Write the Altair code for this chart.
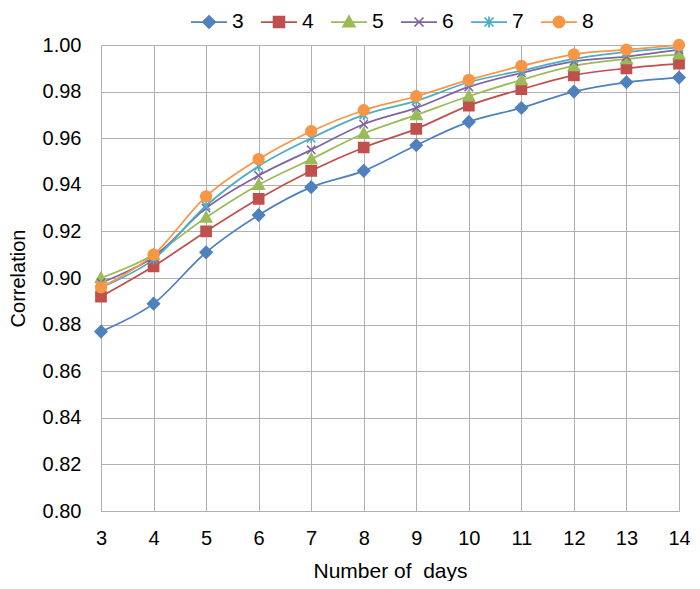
import altair as alt
import pandas as pd

days = list(range(3, 15))
series_names = ["3", "4", "5", "6", "7", "8"]
s3 = [0.877, 0.889, 0.911, 0.927, 0.939, 0.946, 0.957, 0.967, 0.973, 0.980, 0.984, 0.986]
s4 = [0.892, 0.905, 0.920, 0.934, 0.946, 0.956, 0.964, 0.974, 0.981, 0.987, 0.990, 0.992]
s5 = [0.900, 0.910, 0.926, 0.940, 0.951, 0.962, 0.970, 0.978, 0.985, 0.991, 0.994, 0.996]
s6 = [0.898, 0.909, 0.930, 0.944, 0.955, 0.966, 0.973, 0.982, 0.988, 0.993, 0.995, 0.998]
s7 = [0.896, 0.908, 0.931, 0.948, 0.960, 0.970, 0.976, 0.984, 0.989, 0.994, 0.997, 0.999]
s8 = [0.896, 0.910, 0.935, 0.951, 0.963, 0.972, 0.978, 0.985, 0.991, 0.996, 0.998, 1.000]
y_ticks = [0.80, 0.82, 0.84, 0.86, 0.88, 0.90, 0.92, 0.94, 0.96, 0.98, 1.00]
colors = ["#4F81BD", "#C0504D", "#9BBB59", "#8064A2", "#4BACC6", "#F79646"]

marker_paths = [
    "M0,-1L1,0L0,1L-1,0Z",
    "M-0.85,-0.85L0.85,-0.85L0.85,0.85L-0.85,0.85Z",
    "M0,-0.95L0.95,0.75L-0.95,0.75Z",
    "M-0.7,-0.7L0.7,0.7M-0.7,0.7L0.7,-0.7",
    "M-0.7,-0.7L0.7,0.7M-0.7,0.7L0.7,-0.7M0,-0.85L0,0.85",
    "M-0.9,0A0.9,0.9,0,1,0,0.9,0A0.9,0.9,0,1,0,-0.9,0Z",
]
legend_paths = [
    "M-1,0L1,0M0,-0.34L0.34,0L0,0.34L-0.34,0Z",
    "M-1,0L1,0M-0.3,-0.3L0.3,-0.3L0.3,0.3L-0.3,0.3Z",
    "M-1,0L1,0M0,-0.33L0.33,0.26L-0.33,0.26Z",
    "M-1,0L1,0M-0.25,-0.25L0.25,0.25M-0.25,0.25L0.25,-0.25",
    "M-1,0L1,0M-0.25,-0.25L0.25,0.25M-0.25,0.25L0.25,-0.25M0,-0.3L0,0.3",
    "M-1,0L1,0M-0.31,0A0.31,0.31,0,1,0,0.31,0A0.31,0.31,0,1,0,-0.31,0Z",
]

rows = []
for name, vals in zip(series_names, [s3, s4, s5, s6, s7, s8]):
    for d, v in zip(days, vals):
        rows.append({"day": d, "value": v, "series": name})
df = pd.DataFrame(rows)

FONT = "Liberation Sans"
GRID = "#b0b0b0"

color_scale = alt.Scale(domain=series_names, range=colors)

x_enc = alt.X(
    "day:Q",
    scale=alt.Scale(domain=[3, 14], nice=False, zero=False),
    axis=alt.Axis(
        values=days, format="d", title="Number of\u00a0 days", grid=True,
        gridColor=GRID, gridWidth=1, domainColor=GRID, ticks=False, tickSize=0,
        labelPadding=17, labelFontSize=20, titleFontSize=21, titlePadding=12,
        labelFont=FONT, titleFont=FONT, titleFontWeight="normal",
        labelColor="#000000", titleColor="#000000", labelFlush=False,
    ),
)
y_enc = alt.Y(
    "value:Q",
    scale=alt.Scale(domain=[0.80, 1.00], nice=False, zero=False),
    axis=alt.Axis(
        values=y_ticks, format=".2f", title="Correlation", grid=True,
        gridColor=GRID, gridWidth=1, domainColor=GRID, ticks=False, tickSize=0,
        labelPadding=20, labelFontSize=20, titleFontSize=20, titlePadding=14,
        labelFont=FONT, titleFont=FONT, titleFontWeight="normal",
        labelColor="#000000", titleColor="#000000", labelFlush=False,
    ),
)

base = alt.Chart(df)

lines = base.mark_line(interpolate="cardinal", strokeWidth=1.75).encode(
    x=x_enc, y=y_enc,
    color=alt.Color("series:N", scale=color_scale, legend=None),
    detail="series:N",
)

points = base.mark_point(filled=True, size=144, strokeWidth=1.5, opacity=1).encode(
    x=x_enc, y=y_enc,
    fill=alt.Fill("series:N", scale=color_scale, legend=None),
    stroke=alt.Stroke("series:N", scale=color_scale, legend=None),
    shape=alt.Shape("series:N", scale=alt.Scale(domain=series_names, range=marker_paths), legend=None),
)

leg = alt.Legend(
    orient="none", legendX=89, legendY=-42, direction="horizontal", columns=6,
    title=None, symbolSize=1296, symbolStrokeWidth=1.75, symbolOpacity=1,
    labelFontSize=21, labelFont=FONT, labelColor="#000000", labelOffset=4,
    columnPadding=13, padding=0,
)

legend_layer = base.mark_point(filled=True, size=144, strokeWidth=1.75, opacity=1).encode(
    x=x_enc, y=y_enc,
    fill=alt.Fill("series:N", scale=color_scale, legend=leg),
    stroke=alt.Stroke("series:N", scale=color_scale, legend=leg),
    shape=alt.Shape("series:N", scale=alt.Scale(domain=series_names, range=legend_paths), legend=leg),
).transform_filter(alt.datum.day < 0)

chart = (
    alt.layer(lines, points, legend_layer)
    .resolve_scale(fill="independent", stroke="independent", shape="independent")
    .properties(
        width=578, height=466,
        autosize=alt.AutoSizeParams(type="none"),
        padding={"left": 93, "top": 37, "right": 11, "bottom": 70},
        background="white",
    )
    .configure_view(strokeWidth=0)
)

chart.save("out.html", embed_options={"renderer": "svg", "actions": False})
